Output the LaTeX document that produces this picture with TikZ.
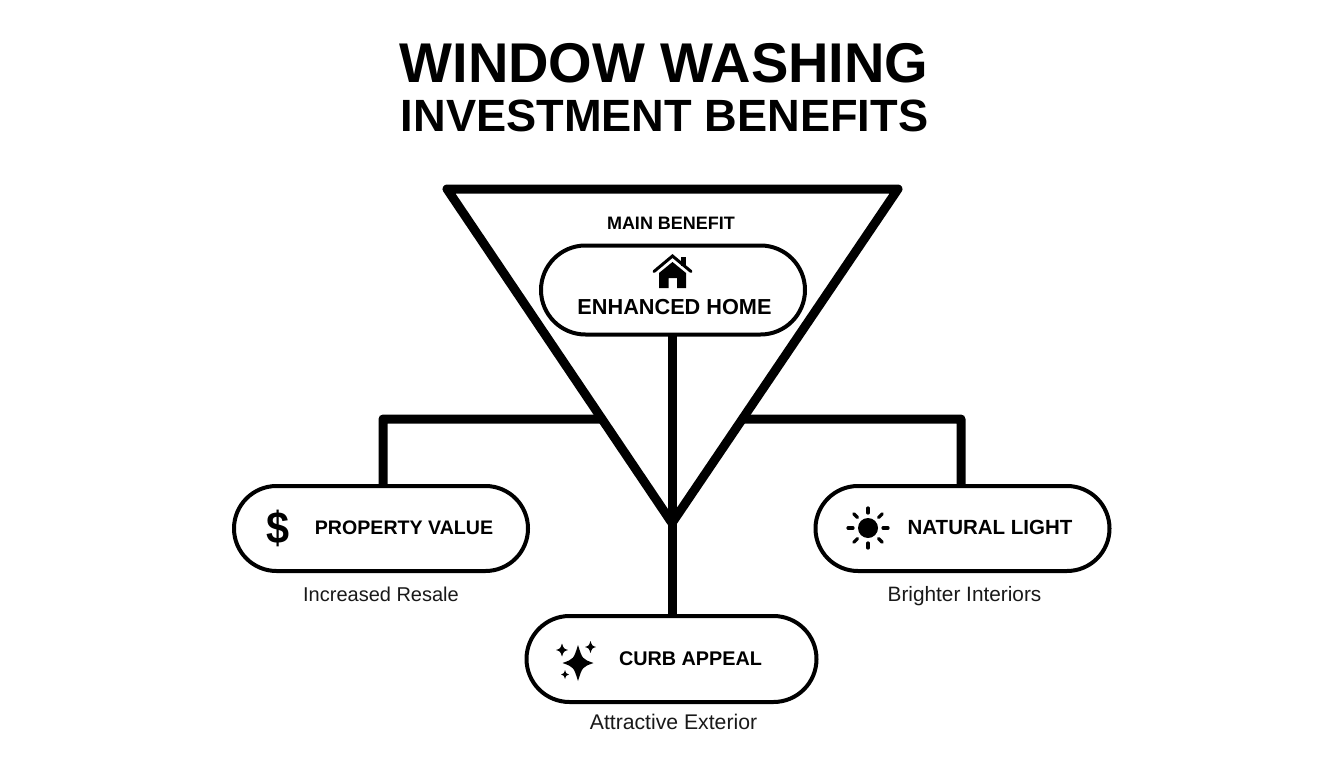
\documentclass[tikz,border=0pt]{standalone}
\usepackage{fontspec}
\setmainfont{Liberation Sans}
\usetikzlibrary{calc,shapes.misc}
\tikzset{
  pill/.style={draw=black,line width=4pt,fill=white,rounded rectangle,inner sep=0pt},
  heavy/.style={draw=black,line width=9pt,line join=round,line cap=round},
  link/.style={draw=black,line width=9pt,line join=round},
  pilltext/.style={text=black,inner sep=0pt,anchor=base},
  subtext/.style={text=black!90,inner sep=0pt,anchor=base},
  ray/.style={draw=black,line width=3.2pt,line cap=round},
}
\newcommand{\sparklestar}[4]{\fill[black] (#1-#3,#2) .. controls (#1-#3*.28,#2-#4*.22) .. (#1,#2-#4) .. controls (#1+#3*.28,#2-#4*.22) .. (#1+#3,#2) .. controls (#1+#3*.28,#2+#4*.22) .. (#1,#2+#4) .. controls (#1-#3*.28,#2+#4*.22) .. cycle;}
\begin{document}
\begin{tikzpicture}[x=1pt,y=-1pt]
\useasboundingbox (0,0) rectangle (1344,768);
\fill[white] (0,0) rectangle (1344,768);
% title
\node[inner sep=0pt,anchor=base,font=\bfseries\fontsize{56}{60}\selectfont] (t1) at (664,82) {WINDOW WASHING};
\node[inner sep=0pt,anchor=base,font=\bfseries\fontsize{45.2}{50}\selectfont] (t2) at (664.5,131) {INVESTMENT BENEFITS};
% triangle
\coordinate (tl) at (447,189);
\coordinate (tr) at (898,189);
\coordinate (apex) at (672,523);
\coordinate (el) at ($(tl)!0.689!(apex)$);
\coordinate (er) at ($(tr)!0.689!(apex)$);
\coordinate (lc) at (383,419);
\coordinate (rc) at (961,419);
% connectors
\draw[heavy] (tl) -- (tr) -- (apex) -- cycle;
\coordinate (homes) at (672,335);
\coordinate (curbn) at (672,616);
\coordinate (propn) at (383,486);
\coordinate (lightn) at (961,486);
\draw[link] (homes) -- (curbn);
\draw[link] (el) -- (lc) -- (propn);
\draw[link] (er) -- (rc) -- (lightn);
% pills
\node[pill,minimum width=264pt,minimum height=89pt] (home) at (673,290) {};
\node[pill,minimum width=294pt,minimum height=85pt] (prop) at (381,528.5) {};
\node[pill,minimum width=294pt,minimum height=85pt] (light) at (962.5,528.5) {};
\node[pill,minimum width=290pt,minimum height=86pt] (curb) at (671.5,659) {};
% texts
\node[inner sep=0pt,anchor=base,font=\bfseries\fontsize{18}{20}\selectfont] (mb) at (671,229.5) {MAIN BENEFIT};
\node[pilltext,font=\bfseries\fontsize{21.7}{26}\selectfont] (homet) at (674.5,314.5) {ENHANCED HOME};
\node[pilltext,font=\bfseries\fontsize{19.6}{24}\selectfont] (propt) at (404,534.5) {PROPERTY VALUE};
\node[pilltext,font=\bfseries\fontsize{20.5}{24}\selectfont] (lightt) at (990,534.5) {NATURAL LIGHT};
\node[pilltext,font=\bfseries\fontsize{19.8}{24}\selectfont] (curbt) at (690.5,665.5) {CURB APPEAL};
\node[subtext,font=\fontsize{20}{24}\selectfont] (props) at (381,601) {Increased Resale};
\node[subtext,font=\fontsize{20.8}{24}\selectfont] (lights) at (964.5,601) {Brighter Interiors};
\node[subtext,font=\fontsize{21.2}{24}\selectfont] (curbs) at (673.5,729) {Attractive Exterior};
% house icon
\draw[black,line width=3pt,line cap=round,line join=miter] (654,271.5) -- (672.5,256) -- (691,271.5);
\fill[black] (680.5,257) rectangle (686,266);
\fill[black,even odd rule] (659,273) -- (672.5,262) -- (686,273) -- (686,288) -- (677,288) -- (677,278) -- (668.5,278) -- (668.5,288) -- (659,288) -- cycle;
% dollar
\node[inner sep=0pt,xscale=.92,transform shape,font=\bfseries\fontsize{45}{48}\selectfont] (dollar) at (278.5,528.5) {\$};
% sun
\fill[black] (868,528) circle (10pt);
\foreach \a in {0,45,...,315}{
  \draw[ray] ($(868,528)+(\a:15)$) -- ($(868,528)+(\a:20)$);
}
% sparkles
\sparklestar{578}{663}{15.5}{18}
\sparklestar{562}{650}{6}{6.5}
\sparklestar{590.5}{647}{5.5}{6}
\sparklestar{565}{674.5}{4}{4.5}
\end{tikzpicture}
\end{document}
